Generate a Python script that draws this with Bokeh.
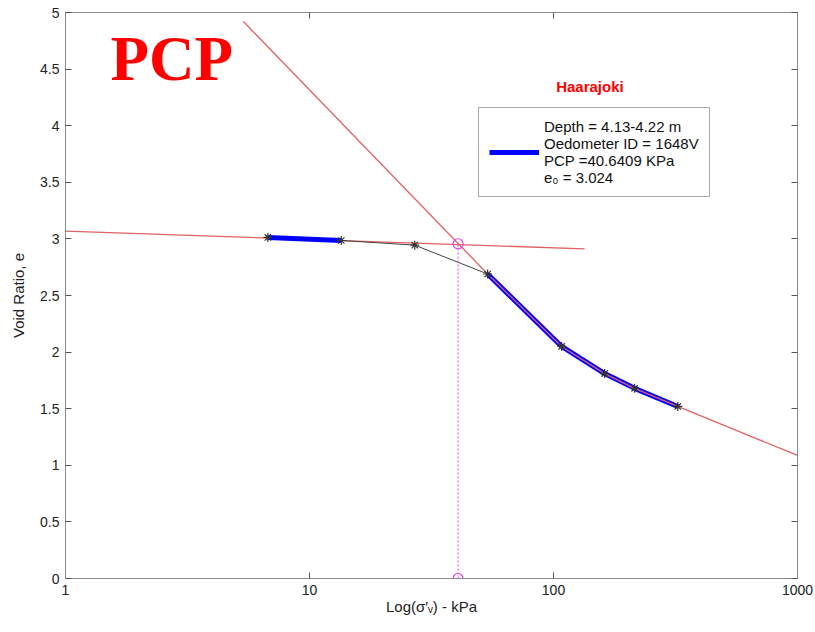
from bokeh.plotting import figure
from bokeh.models import (LinearAxis, LogAxis, FixedTicker, Legend, LegendItem, Label)
from bokeh.embed import file_html
from bokeh.resources import INLINE

# ---------------- data ----------------
stress = [6.75, 13.5, 27.0, 53.7, 108.0, 162.0, 215.0, 323.0]     # kPa
void_ratio = [3.013, 2.986, 2.945, 2.690, 2.050, 1.810, 1.680, 1.520]

# blue highlighted segments (indices into the data above)
seg1_idx = [0, 1]
seg2_idx = [3, 4, 5, 6, 7]

# recompression red line
recomp_x = [1.0, 134.0]
recomp_e = [3.068, 2.912]

# virgin compression red line
comp_x = [5.36, 53.7, 108.0, 162.0, 215.0, 323.0, 1000.0]
comp_e = [4.92, 2.690, 2.050, 1.810, 1.680, 1.520, 1.087]

# preconsolidation pressure marker
pcp = 40.6409
pcp_e = 2.957

x_ticks = [1, 10, 100, 1000]
x_tick_labels = ["1", "10", "100", "1000"]
y_ticks = [0, 0.5, 1, 1.5, 2, 2.5, 3, 3.5, 4, 4.5, 5]

legend_text = "Depth = 4.13-4.22 m\nOedometer ID = 1648V\nPCP =40.6409 KPa\ne\u2080 = 3.024"

# ---------------- figure ----------------
FONT = "Liberation Sans"
p = figure(width=815, height=632, x_axis_type="log", x_range=(1, 1000), y_range=(0, 5),
           output_backend="svg", toolbar_location=None,
           min_border_left=65, min_border_right=18, min_border_top=12, min_border_bottom=54)
p.frame_width = 732
p.frame_height = 566
p.xgrid.visible = False
p.ygrid.visible = False
p.outline_line_color = "#8a8a8a"
p.background_fill_color = "white"
p.border_fill_color = "white"

def style(ax, labels=True):
    ax.axis_line_color = "#8a8a8a"
    ax.major_tick_line_color = "#555555"
    ax.major_tick_in = 6
    ax.major_tick_out = 0
    ax.minor_tick_line_color = None
    ax.major_label_text_font = FONT
    ax.major_label_text_font_size = "14px"
    ax.major_label_text_color = "#222222"
    if not labels:
        ax.major_label_text_alpha = 0
        ax.major_label_standoff = 0
    ax.axis_label_text_font = FONT
    ax.axis_label_text_font_size = "15px"
    ax.axis_label_text_font_style = "normal"
    ax.axis_label_text_color = "#222222"

xa = p.xaxis[0]
xa.ticker = FixedTicker(ticks=x_ticks)
xa.major_label_overrides = {t: s for t, s in zip(x_ticks, x_tick_labels)}
xa.axis_label = "Log(\u03c3\u2032\u1d65) - kPa"
xa.major_label_standoff = 6
xa.axis_label_standoff = 0
style(xa)
ya = p.yaxis[0]
ya.ticker = FixedTicker(ticks=y_ticks)
ya.axis_label = "Void Ratio, e"
ya.major_label_standoff = 6
ya.axis_label_standoff = 10
style(ya)

ra = LinearAxis(ticker=FixedTicker(ticks=y_ticks))
style(ra, labels=False)
p.add_layout(ra, "right")
ta = LogAxis(ticker=FixedTicker(ticks=x_ticks))
style(ta, labels=False)
p.add_layout(ta, "above")

# red fitted lines
p.line(recomp_x, recomp_e, line_color="#e06262", line_width=1.3)

# black connecting line through all data
p.line(stress, void_ratio, line_color="#444444", line_width=1)

# blue highlighted segments
blue1 = p.line([stress[i] for i in seg1_idx], [void_ratio[i] for i in seg1_idx],
               line_color="#0000ff", line_width=5)
blue2 = p.line([stress[i] for i in seg2_idx], [void_ratio[i] for i in seg2_idx],
               line_color="#0000ff", line_width=5)

p.line(comp_x, comp_e, line_color="#e06262", line_width=1.3)

# data markers
p.scatter(stress, void_ratio, marker="asterisk", size=9, line_color="#333333", line_width=1.2)

# preconsolidation pressure construction
p.line([pcp, pcp], [0, pcp_e], line_color="#dd44dd", line_width=1, line_dash="2 2")
p.scatter([pcp, pcp], [0, pcp_e], marker="circle", size=10, fill_color=None,
          line_color="#dd44dd", line_width=1.2)

# texts
p.add_layout(Label(x=1.53, y=4.59, text="PCP", text_font="Liberation Serif",
                   text_font_style="bold", text_font_size="63px", text_color="#ff0000",
                   text_baseline="alphabetic"))
p.add_layout(Label(x=141.0, y=4.346, text="Haarajoki", text_font=FONT,
                   text_font_style="bold", text_font_size="15px", text_color="#ff0000",
                   text_align="center", text_baseline="middle"))

legend = Legend(items=[LegendItem(label=legend_text, renderers=[blue1])],
                location=(413, 381), orientation="vertical",
                label_text_font=FONT, label_text_font_size="15px",
                label_text_color="#111111", glyph_width=50, glyph_height=20,
                label_standoff=5, padding=10, margin=0,
                border_line_color="#555555", border_line_width=1,
                background_fill_color="white", background_fill_alpha=1.0)
p.add_layout(legend, "center")

open("out.html", "w").write(file_html(p, INLINE))
